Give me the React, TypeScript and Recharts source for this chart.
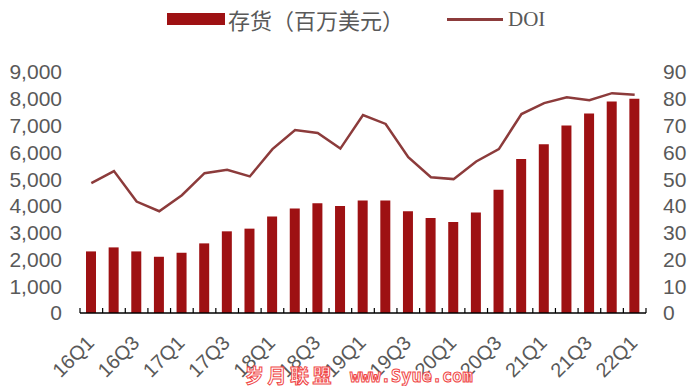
import { ComposedChart, Bar, Line, XAxis, YAxis, Legend } from "recharts";

const quarters = [
  "16Q1", "16Q2", "16Q3", "16Q4",
  "17Q1", "17Q2", "17Q3", "17Q4",
  "18Q1", "18Q2", "18Q3", "18Q4",
  "19Q1", "19Q2", "19Q3", "19Q4",
  "20Q1", "20Q2", "20Q3", "20Q4",
  "21Q1", "21Q2", "21Q3", "21Q4",
  "22Q1",
];
// 存货（百万美元）
const inventory = [
  2300, 2450, 2300, 2100,
  2250, 2600, 3050, 3150,
  3600, 3900, 4100, 4000,
  4200, 4200, 3800, 3550,
  3400, 3750, 4600, 5750,
  6300, 7000, 7450, 7900,
  8000,
];
// DOI
const doi = [
  48.5, 53, 41.6, 38,
  44, 52.2, 53.5, 51,
  61.2, 68.3, 67.2, 61.4,
  73.9, 70.6, 58.2, 50.7,
  50, 56.6, 61.2, 74.3,
  78.4, 80.6, 79.5, 82.1,
  81.5,
];
const leftTicks = [0, 1000, 2000, 3000, 4000, 5000, 6000, 7000, 8000, 9000];
const rightTicks = [0, 10, 20, 30, 40, 50, 60, 70, 80, 90];

const data = quarters.map((q, i) => ({ q, inv: inventory[i], doi: doi[i] }));

const barColor = "#9e1113";
const lineColor = "#8c3b3b";
const textColor = "#595959";

const plotLeft = 80;
const plotRight = 54;
const halfBand = (700 - plotLeft - plotRight) / quarters.length / 2;

function QuarterTick(props: any) {
  const { x, y, payload, index } = props;
  const last = index === quarters.length - 1;
  const ax = y - 8; // axis line position
  return (
    <g>
      <line x1={x - halfBand} x2={x - halfBand} y1={ax} y2={ax - 5} stroke="#000" strokeWidth={1.2} />
      {last && <line x1={x + halfBand} x2={x + halfBand} y1={ax} y2={ax - 5} stroke="#000" strokeWidth={1.2} />}
      {index % 2 === 0 && (
        <text
          x={x + 4}
          y={y + 23}
          transform={`rotate(-45 ${x + 4} ${y + 23})`}
          textAnchor="end"
          fill={textColor}
          fontSize={20}
          fontFamily="'Liberation Sans', Arial, sans-serif"
        >
          {payload.value}
        </text>
      )}
    </g>
  );
}

function LegendBox() {
  return (
    <div style={{ position: "relative", width: 700, height: 40 }}>
      <div style={{ position: "absolute", left: 167, top: 13, width: 58, height: 12, background: barColor }} />
      <span
        style={{
          position: "absolute", left: 228, top: 4, fontSize: 22, lineHeight: "30px",
          color: textColor, fontFamily: "'Noto Sans CJK SC', sans-serif",
        }}
      >
        存货（百万美元）
      </span>
      <div style={{ position: "absolute", left: 447, top: 18, width: 56, height: 3, background: lineColor }} />
      <span
        style={{
          position: "absolute", left: 508, top: 4, fontSize: 21, lineHeight: "30px",
          color: textColor, fontFamily: "'Liberation Serif', serif",
        }}
      >
        DOI
      </span>
    </div>
  );
}

export default function App() {
  return (
    <div style={{ position: "absolute", left: 0, top: 0, width: 700, height: 386, background: "#fff" }}>
      <ComposedChart
        width={700}
        height={386}
        data={data}
        margin={{ top: 72, right: 0, bottom: 13, left: 0 }}
      >
        <XAxis
          dataKey="q"
          interval={0}
          tickLine={false}
          axisLine={{ stroke: "#000", strokeWidth: 1.5 }}
          tick={<QuarterTick />}
          height={60}
        />
        <YAxis
          yAxisId="left"
          domain={[0, 9000]}
          ticks={leftTicks}
          interval={0}
          axisLine={false}
          tickLine={false}
          tickSize={16}
          width={plotLeft}
          tickFormatter={(v: number) => v.toLocaleString("en-US")}
          tick={{ fill: textColor, fontSize: 21, fontFamily: "'Liberation Sans', Arial, sans-serif" }}
        />
        <YAxis
          yAxisId="right"
          orientation="right"
          domain={[0, 90]}
          ticks={rightTicks}
          interval={0}
          axisLine={false}
          tickLine={false}
          tickSize={15}
          width={plotRight}
          tick={{ fill: textColor, fontSize: 21, fontFamily: "'Liberation Sans', Arial, sans-serif" }}
        />
        <Legend
          verticalAlign="middle"
          wrapperStyle={{ top: 0, left: 0, width: 700 }}
          content={() => <LegendBox />}
        />
        <Bar yAxisId="left" dataKey="inv" name="存货（百万美元）" fill={barColor} barSize={10} isAnimationActive={false} />
        <Line
          yAxisId="right"
          dataKey="doi"
          name="DOI"
          stroke={lineColor}
          strokeWidth={2.5}
          dot={false}
          type="linear"
          isAnimationActive={false}
        />
      </ComposedChart>
      <div
        style={{
          position: "absolute", left: 245, top: 364, fontSize: 19, lineHeight: "22px",
          color: "#fff", WebkitTextStroke: "1px #f04848", letterSpacing: 3.5,
          fontFamily: "'Noto Sans CJK SC', sans-serif", fontWeight: 700, whiteSpace: "nowrap",
        }}
      >
        岁月联盟
      </div>
      <div
        style={{
          position: "absolute", left: 350, top: 365, fontSize: 17, lineHeight: "22px",
          color: "#fff", WebkitTextStroke: "1px #f04848",
          fontFamily: "'DejaVu Sans Mono', monospace", fontWeight: 700, whiteSpace: "nowrap",
        }}
      >
        www.Syue.com
      </div>
    </div>
  );
}
